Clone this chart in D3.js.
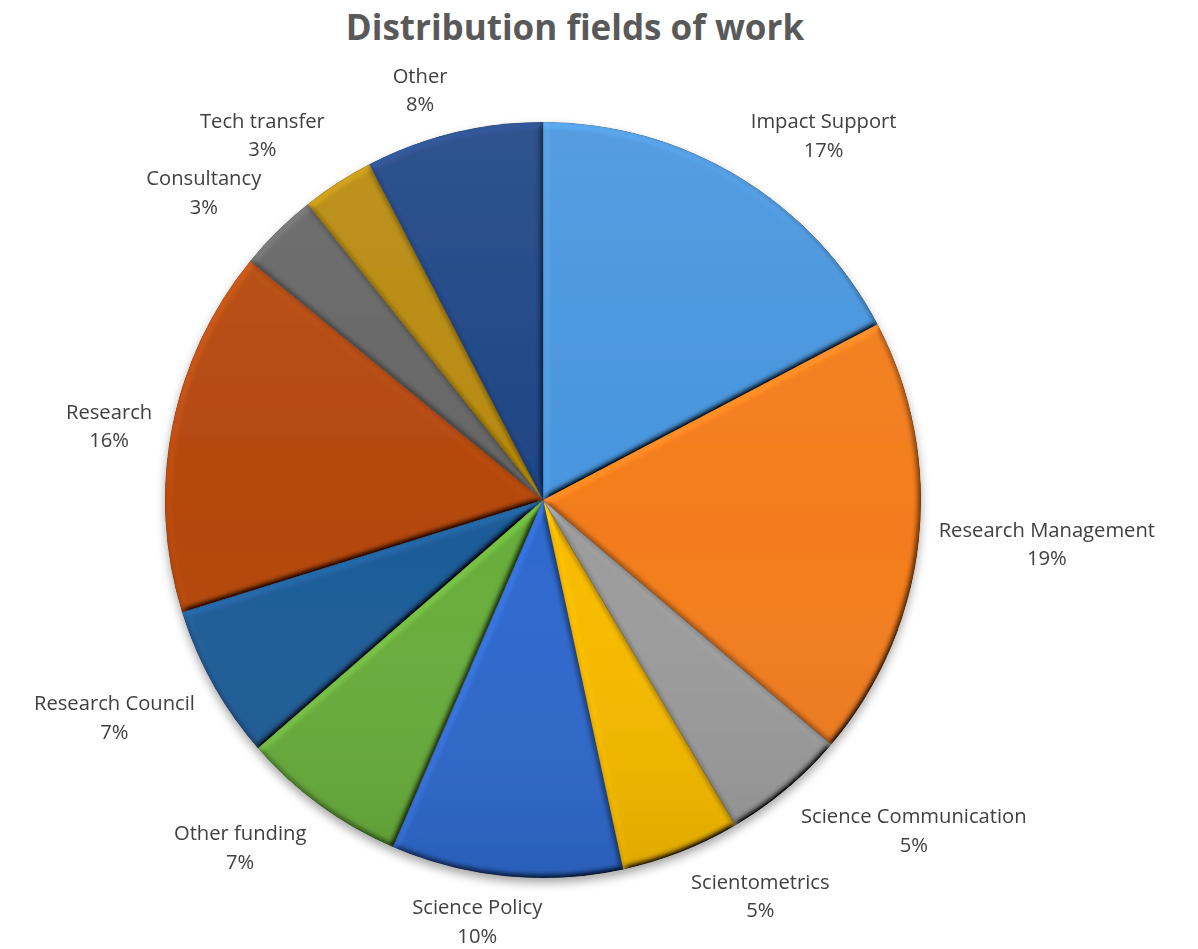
<!DOCTYPE html>
<html>
<head>
<meta charset="utf-8">
<script src="https://cdn.jsdelivr.net/npm/d3@7"></script>
<style>
  body { margin: 0; background: #fff; }
  svg { display: block; }
</style>
</head>
<body>
<svg id="chart"></svg>
<script>
const fields = ['Impact Support', 'Research Management', 'Science Communication', 'Scientometrics',
  'Science Policy', 'Other funding', 'Research Council', 'Research', 'Consultancy', 'Tech transfer', 'Other'];
const shares = [17.3, 18.9, 5.3, 5.1, 9.9, 7.1, 6.6, 15.7, 3.4, 3.1, 7.6];
const colors = ['#4896df', '#f47d1c', '#9d9d9d', '#f9bc00', '#2f69ce', '#68ad3b',
  '#1f5c98', '#b5480a', '#656565', '#b88a08', '#1f4485'];

const width = 1198, height = 949;
const cx = 543, cy = 500, R = 378;

const svg = d3.select('#chart').attr('width', width).attr('height', height);
const defs = svg.append('defs');

// bevel on each slice
const bevel = defs.append('filter').attr('id', 'bevel')
  .attr('x', '-5%').attr('y', '-5%').attr('width', '110%').attr('height', '110%');
bevel.append('feGaussianBlur').attr('in', 'SourceAlpha').attr('stdDeviation', 3).attr('result', 'blur');
bevel.append('feDiffuseLighting').attr('in', 'blur').attr('surfaceScale', 5)
  .attr('diffuseConstant', 1).attr('lighting-color', '#fff').attr('result', 'light')
  .append('feDistantLight').attr('azimuth', 235).attr('elevation', 50);
bevel.append('feComposite').attr('in', 'SourceGraphic').attr('in2', 'light')
  .attr('operator', 'arithmetic').attr('k1', 1.3).attr('k2', 0).attr('k3', 0).attr('k4', 0)
  .attr('result', 'lit');
bevel.append('feComposite').attr('in', 'lit').attr('in2', 'SourceAlpha').attr('operator', 'in');

// soft shadow under pie
const shadow = defs.append('filter').attr('id', 'shadow')
  .attr('x', '-10%').attr('y', '-10%').attr('width', '120%').attr('height', '125%');
shadow.append('feDropShadow').attr('dx', 0).attr('dy', 5).attr('stdDeviation', 5)
  .attr('flood-color', '#000').attr('flood-opacity', 0.35);

// overall top-light / bottom-dark tint
const tint = defs.append('linearGradient').attr('id', 'tint')
  .attr('x1', 0).attr('y1', 0).attr('x2', 0).attr('y2', 1);
tint.append('stop').attr('offset', '0%').attr('stop-color', '#fff').attr('stop-opacity', 0.08);
tint.append('stop').attr('offset', '55%').attr('stop-color', '#fff').attr('stop-opacity', 0);
tint.append('stop').attr('offset', '100%').attr('stop-color', '#000').attr('stop-opacity', 0.1);

svg.append('text')
  .attr('x', 575).attr('y', 40)
  .attr('text-anchor', 'middle')
  .attr('font-family', 'Open Sans, sans-serif')
  .attr('font-weight', 'bold')
  .attr('font-size', 35)
  .attr('fill', '#595959')
  .text('Distribution fields of work');

const pie = d3.pie().sort(null).value(d => d)(shares);
const arc = d3.arc().innerRadius(0).outerRadius(R);

const g = svg.append('g').attr('transform', `translate(${cx},${cy})`).attr('filter', 'url(#shadow)');

g.selectAll('path.slice')
  .data(pie)
  .enter()
  .append('path')
  .attr('class', 'slice')
  .attr('d', arc)
  .attr('fill', (d, i) => colors[i])
  .attr('stroke', 'rgba(0,0,0,0.25)')
  .attr('stroke-width', 0.8)
  .attr('filter', 'url(#bevel)');

g.append('circle').attr('r', R).attr('fill', 'url(#tint)').attr('pointer-events', 'none');

// labels, placed outside the slice end
const total = d3.sum(shares);
const clamp = v => Math.max(-1, Math.min(1, v));
const labels = svg.append('g').attr('class', 'labels');
const placed = [];

pie.forEach((d, i) => {
  const a = (d.startAngle + d.endAngle) / 2;
  const s = Math.sin(a), c = Math.cos(a);
  const ax = cx + (R + 16) * s;
  const ay = cy - (R + 16) * c;

  const t = labels.append('text')
    .attr('font-family', 'Open Sans, sans-serif')
    .attr('font-size', 20.2)
    .attr('fill', '#404040')
    .attr('text-anchor', 'middle');
  t.append('tspan').attr('x', 0).attr('dy', 0).text(fields[i]);
  t.append('tspan').attr('x', 0).attr('dy', 28.5).text(Math.round(d.value / total * 100) + '%');

  const bb = t.node().getBBox();
  const w = bb.width + 8, h = bb.height;
  const hx = clamp(s * 4);
  const vy = Math.abs(c) < 0.2 ? 0 : clamp((c - Math.sign(c) * 0.2) * 3);
  const bx = ax + hx * w / 2;
  let by = ay - vy * h / 2;

  // push away from the previous label if the boxes touch
  const prev = placed[placed.length - 1];
  if (prev && Math.abs(bx - prev.x) < (bb.width + prev.w) / 2) {
    const need = (bb.height + prev.h) / 2 + 1;
    const dy = by - prev.y;
    if (Math.abs(dy) < need) by = prev.y + (dy < 0 ? -need : need);
  }
  placed.push({ x: bx, y: by, w: bb.width, h: bb.height });

  t.attr('transform', `translate(${bx - (bb.x + bb.width / 2)},${by - (bb.y + bb.height / 2)})`);
});
</script>
</body>
</html>
